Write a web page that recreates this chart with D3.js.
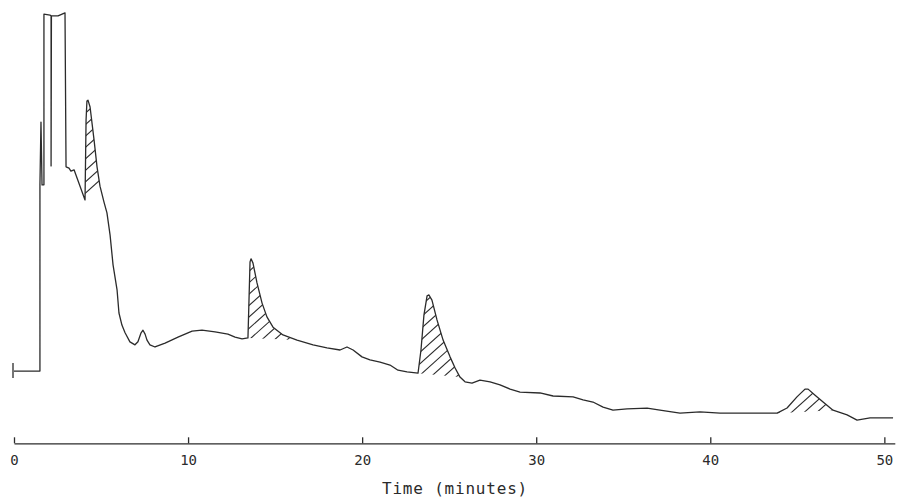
<!DOCTYPE html>
<html>
<head>
<meta charset="utf-8">
<script src="https://cdn.jsdelivr.net/npm/d3@7"></script>
<style>
  html, body { margin: 0; padding: 0; background: #fff; }
  svg { display: block; }
</style>
</head>
<body>
<svg id="chart" width="897" height="497"></svg>
<script>
// ---- data (time in minutes, detector response in arbitrary units) ----
const times = [
  0.00, 1.49, 1.49, 1.55, 1.61, 1.72, 1.72, 2.07, 2.13, 2.13, 2.15, 2.53, 2.93, 2.99, 3.16, 3.27, 3.45,
  4.08, 4.14, 4.19, 4.25, 4.37, 4.60, 4.77, 4.94, 5.17, 5.34, 5.52, 5.69, 5.92, 6.03, 6.20, 6.38, 6.66,
  6.95, 7.12, 7.30, 7.41, 7.53, 7.64, 7.81, 8.10, 8.68, 9.42, 10.23, 10.80, 11.55, 12.29, 12.70, 13.10,
  13.44, 13.50, 13.56, 13.62, 13.73, 13.96, 14.25, 14.53, 14.88, 15.45, 16.26, 17.18, 17.98, 18.73,
  19.13, 19.48, 19.99, 20.45, 21.03, 21.60, 22.06, 22.58, 23.21, 23.38, 23.55, 23.73, 23.84, 24.01,
  24.30, 24.65, 25.05, 25.34, 25.62, 25.91, 26.31, 26.77, 27.35, 27.92, 28.50, 29.07, 30.22, 30.97,
  32.12, 32.69, 33.26, 33.84, 34.41, 35.22, 36.37, 37.11, 38.26, 39.41, 40.56, 41.71, 42.86, 43.84,
  44.41, 44.98, 45.44, 45.62, 46.02, 46.48, 47.05, 47.86, 48.43, 49.18, 49.92, 50.50
];
const response = [
  16.8, 16.8, 60.1, 74.7, 60.1, 60.1, 99.8, 99.6, 99.4, 64.5, 99.4, 99.4, 100.1, 64.3, 64.0, 63.3, 63.6,
  56.6, 75.2, 79.6, 79.8, 78.2, 70.5, 64.3, 59.8, 56.1, 53.6, 48.4, 41.5, 35.7, 30.3, 27.5, 25.7, 23.6,
  22.9, 23.6, 25.7, 26.3, 25.4, 24.0, 22.9, 22.4, 23.3, 24.7, 26.1, 26.3, 25.9, 25.4, 24.7, 24.3,
  24.5, 33.3, 42.2, 42.9, 41.9, 37.3, 32.6, 29.4, 27.0, 25.2, 24.0, 22.9, 22.2, 21.7,
  22.4, 21.7, 20.1, 19.4, 18.9, 18.2, 17.0, 16.6, 16.3, 21.7, 29.8, 34.3, 34.5, 33.3,
  28.7, 24.0, 20.1, 17.5, 15.4, 14.3, 14.0, 14.7, 14.3, 13.6, 12.6, 11.9, 11.7, 11.0,
  10.8, 10.1, 9.6, 8.4, 7.7, 8.0, 8.2, 7.7, 7.0, 7.3, 7.0, 7.0, 7.0, 7.0,
  8.2, 10.8, 12.6, 12.6, 11.2, 9.6, 7.7, 6.6, 5.4, 5.9, 5.9, 5.9
];
// hatched (integrated) peaks: start / end times
const peakStart = [4.08, 13.44, 23.21, 43.84];
const peakEnd   = [4.94, 16.26, 25.62, 47.05];
// axis
const tickValues = [0, 10, 20, 30, 40, 50];
const tickLabels = ["0", "10", "20", "30", "40", "50"];
const xTitle = "Time (minutes)";

// ---- drawing ----
const ink = "#2b2b2b";
const svg = d3.select("#chart");
const data = times.map((t, i) => ({ t, v: response[i] }));

const x = d3.scaleLinear().domain([0, 50.6]).range([14, 894.8]);
const y = d3.scaleLinear().domain([0, 100]).range([443.3, 13.3]);

// hatching
const defs = svg.append("defs");
const angle = 42 * Math.PI / 180;
const spacing = 8.5;
peakStart.forEach((ts, k) => {
  const te = peakEnd[k];
  const pts = data.filter(d => d.t >= ts && d.t <= te);
  const poly = pts.map(d => [x(d.t), y(d.v)]);
  const id = "clip" + k;
  defs.append("clipPath").attr("id", id)
    .append("polygon").attr("points", poly.map(p => p.join(",")).join(" "));
  const xs = poly.map(p => p[0]), ys = poly.map(p => p[1]);
  const x0 = d3.min(xs) - 2, x1 = d3.max(xs) + 2, y0 = d3.min(ys) - 2, y1 = d3.max(ys) + 2;
  const slope = Math.tan(angle);
  const step = spacing / Math.cos(angle);
  const g = svg.append("g").attr("clip-path", `url(#${id})`);
  const cMin = y0 + slope * x0, cMax = y1 + slope * x1;
  const cs = d3.range(cMin + step / 2, cMax, step);
  g.selectAll("line").data(cs).join("line")
    .attr("x1", x0).attr("y1", c => c - slope * x0)
    .attr("x2", x1).attr("y2", c => c - slope * x1)
    .attr("stroke", ink).attr("stroke-width", 1.1);
});

// trace
const line = d3.line().x(d => x(d.t)).y(d => y(d.v));
svg.append("path").datum(data)
  .attr("d", line)
  .attr("fill", "none")
  .attr("stroke", ink)
  .attr("stroke-width", 1.3)
  .attr("stroke-linejoin", "round");

// injection marker at start
svg.append("line")
  .attr("x1", x(data[0].t) - 1).attr("x2", x(data[0].t) - 1)
  .attr("y1", y(data[0].v) - 8).attr("y2", y(data[0].v) + 7)
  .attr("stroke", ink).attr("stroke-width", 1.3);

// axis
const axis = d3.axisBottom(x)
  .tickValues(tickValues)
  .tickFormat((d, i) => tickLabels[i])
  .tickSizeInner(-6)
  .tickSizeOuter(0)
  .tickPadding(12);
const ag = svg.append("g").attr("transform", "translate(0,443.3)").call(axis);
ag.select(".domain").attr("stroke", ink).attr("stroke-width", 1.3);
ag.selectAll(".tick line").attr("stroke", ink).attr("stroke-width", 1.3);
ag.selectAll(".tick text")
  .attr("fill", ink)
  .style("font-family", "'DejaVu Sans Mono', monospace")
  .style("font-size", "14px");

svg.append("text")
  .attr("x", 455).attr("y", 494)
  .attr("text-anchor", "middle")
  .attr("fill", ink)
  .style("font-family", "'DejaVu Sans Mono', monospace")
  .style("font-size", "16px")
  .style("letter-spacing", "0.8px")
  .text(xTitle);
</script>
</body>
</html>
